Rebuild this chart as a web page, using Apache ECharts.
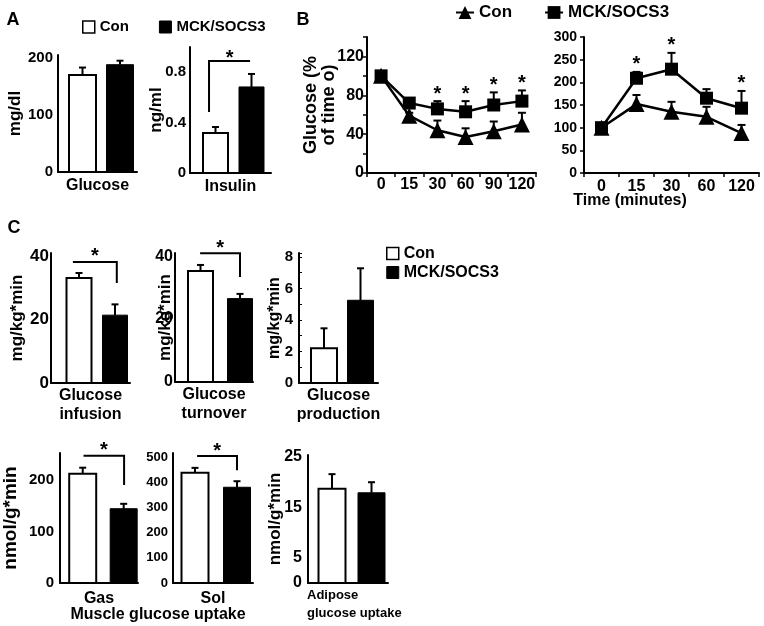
<!DOCTYPE html>
<html><head><meta charset="utf-8">
<script src="https://cdn.jsdelivr.net/npm/echarts@6/dist/echarts.min.js"></script>
<style>html,body{margin:0;padding:0;background:#fff}#c{width:764px;height:626px}</style>
</head><body><div id="c"></div>
<script>
// ================= DATA =================
const groupNames = ['Con', 'MCK/SOCS3'];

// Panel A (fasting)
const fastGlucose = [170, 188];
const fastGlucoseErr = [13, 7];
const glucoseTicks = [0, 100, 200];
const fastInsulin = [0.317, 0.683];
const fastInsulinErr = [0.048, 0.103];
const insulinTicks = [0, 0.4, 0.8];

// Panel B left (glucose, % of time 0)
const gttTimes = ['0', '15', '30', '60', '90', '120'];
const gttCon = [100, 59, 44, 37, 43, 50];
const gttConErr = [0, 3, 10, 9, 10, 12];
const gttMck = [100, 72, 66, 63, 70, 74];
const gttMckErr = [0, 4, 8, 11, 13, 11];
const gttSig = [2, 3, 4, 5];
const gttTicks = [0, 40, 80, 120];

// Panel B right
const ittTimes = ['0', '15', '30', '60', '120'];
const ittCon = [100, 152, 135, 124, 88];
const ittConErr = [0, 20, 22, 22, 18];
const ittMck = [100, 209, 229, 165, 143];
const ittMckErr = [0, 14, 36, 20, 38];
const ittSig = [1, 2, 4];
const ittTicks = [0, 50, 100, 150, 200, 250, 300];

// Panel C (clamp)
const glucoseInfusion = [33.1, 21.4];
const glucoseInfusionErr = [1.6, 3.4];
const infusionTicks = [0, 20, 40];
const glucoseTurnover = [35.3, 26.5];
const glucoseTurnoverErr = [1.9, 1.5];
const turnoverTicks = [0, 20, 40];
const glucoseProduction = [2.2, 5.25];
const glucoseProductionErr = [1.27, 2.03];
const productionTicks = [0, 2, 4, 6, 8];
const gasUptake = [212, 144];
const gasUptakeErr = [11.5, 9.5];
const gasTicks = [0, 100, 200];
const solUptake = [438, 380];
const solUptakeErr = [19, 24];
const solTicks = [0, 100, 200, 300, 400, 500];
const adiposeUptake = [18.7, 17.9];
const adiposeUptakeErr = [2.9, 2.1];
const adiposeTicks = [0, 5, 15, 25];

// ================= LAYOUT / STYLE =================
const FONT = 'Liberation Sans';
const BLACK = '#000';

const barPanels = [
  {vals: fastGlucose, errs: fastGlucoseErr, ticks: glucoseTicks, L: 58, R: 137, top: 55, y0: 172, c1: 82.5, c2: 120, bw: 27,
   max: 205, interval: 100, lblSize: 15, lblMargin: 5, yName: 'mg/dl', yGap: 34, yNameSize: 17, xName: 'Glucose', xGap: 4, xNameSize: 16},
  {vals: fastInsulin, errs: fastInsulinErr, ticks: insulinTicks, L: 190, R: 271, top: 47, y0: 173, c1: 215.5, c2: 251.5, bw: 25,
   max: 1.0, interval: 0.4, lblSize: 15, lblMargin: 4, yName: 'ng/ml', yGap: 25, yNameSize: 17, xName: 'Insulin', xGap: 4, xNameSize: 16,
   bracket: {x1: 0.82, x2: 1.96, y: 0.889, drop: 0.484, side: 'left', starOff: 3}},
  {vals: glucoseInfusion, errs: glucoseInfusionErr, ticks: infusionTicks, L: 51, R: 130, top: 253, y0: 383, c1: 79, c2: 115, bw: 25,
   max: 41, interval: 20, lblSize: 17, lblMargin: 2, yName: 'mg/kg*min', yGap: 25, yNameSize: 17, xName: 'Glucose\ninfusion', xGap: 3, xNameSize: 16,
   bracket: {x1: 0.83, x2: 2.05, y: 38.2, drop: 31.5, side: 'right', starOff: 5}},
  {vals: glucoseTurnover, errs: glucoseTurnoverErr, ticks: turnoverTicks, L: 175, R: 253, top: 253, y0: 382, c1: 200.5, c2: 240, bw: 25,
   max: 41, interval: 20, lblSize: 16, lblMargin: 2, yName: 'mg/kg*min', yGap: 1, yNameSize: 17, xName: 'Glucose\nturnover', xGap: 3, xNameSize: 16,
   bracket: {x1: 0.99, x2: 2.0, y: 40.9, drop: 33.4, side: 'right', starOff: 5}},
  {vals: glucoseProduction, errs: glucoseProductionErr, ticks: productionTicks, L: 299, R: 378, top: 253, y0: 383, c1: 324, c2: 360.5, bw: 26,
   max: 8.25, interval: 1, lblSize: 15, lblMargin: 6, yName: 'mg/kg*min', yGap: 16, yNameSize: 16, xName: 'Glucose\nproduction', xGap: 3, xNameSize: 16, tick: true},
  {vals: gasUptake, errs: gasUptakeErr, ticks: gasTicks, L: 59, R: 138, top: 453, y0: 583, c1: 82, c2: 123.5, bw: 27,
   max: 252, interval: 100, lblSize: 15, lblMargin: 6, yName: 'nmol/g*min', yGap: 40, yNameSize: 19, xName: 'Gas', xGap: 6, xNameSize: 16,
   bracket: {x1: 1.02, x2: 2.01, y: 246.6, drop: 190, side: 'right', starOff: 5}},
  {vals: solUptake, errs: solUptakeErr, ticks: solTicks, L: 173, R: 253, top: 453, y0: 583, c1: 195, c2: 237, bw: 27,
   max: 516, interval: 100, lblSize: 13, lblMargin: 5, yName: '', yGap: 0, yNameSize: 16, xName: 'Sol', xGap: 6, xNameSize: 16,
   bracket: {x1: 1.05, x2: 2.0, y: 504, drop: 448, side: 'right', starOff: 5}},
  {vals: adiposeUptake, errs: adiposeUptakeErr, ticks: adiposeTicks, L: 308, R: 388, top: 455, y0: 583, c1: 332, c2: 371.5, bw: 27,
   max: 25.4, interval: 5, lblSize: 16, lblMargin: 6, yName: 'nmol/g*min', yGap: 24, yNameSize: 17, xName: '', xGap: 4, xNameSize: 16}
];

const grids = [], xAxes = [], yAxes = [], series = [];

function tickFormatter(list) {
  return v => list.some(t => Math.abs(t - v) < 1e-6) ? String(+v.toFixed(3)) : '';
}
function axisLineStyle() { return {show: true, onZero: false, lineStyle: {color: BLACK, width: 2}}; }

// ---------- line panels (first so legend B uses line icons) ----------
const linePanels = [
  {cats: gttTimes, con: gttCon, conErr: gttConErr, mck: gttMck, mckErr: gttMckErr, sig: gttSig, ticks: gttTicks,
   L: 367, R: 536, top: 37, y0: 173, max: 140, interval: 20, ylbl: 16, ylblMargin: 3, xlbl: 16, xlblMargin: 4,
   yName: 'Glucose (%\nof time o)', yGap: 29},
  {cats: ittTimes, con: ittCon, conErr: ittConErr, mck: ittMck, mckErr: ittMckErr, sig: ittSig, ticks: ittTicks,
   L: 584, R: 759, top: 37, y0: 173, max: 300, interval: 50, ylbl: 14, ylblMargin: 7, xlbl: 16, xlblMargin: 6,
   yName: '', yGap: 0}
];

function errRender(capW) {
  return function (params, api) {
    const x = api.value(0), m = api.value(1), e = api.value(2);
    if (!(e > 0)) return null;
    const p0 = api.coord([x, m]), p1 = api.coord([x, m + e]);
    const st = {stroke: BLACK, lineWidth: 2};
    return {type: 'group', children: [
      {type: 'line', shape: {x1: p0[0], y1: p0[1], x2: p1[0], y2: p1[1]}, style: st},
      {type: 'line', shape: {x1: p1[0] - capW / 2, y1: p1[1], x2: p1[0] + capW / 2, y2: p1[1]}, style: st}
    ]};
  };
}

linePanels.forEach((p, k) => {
  const gi = grids.length;
  grids.push({left: p.L, top: p.top, width: p.R - p.L, height: p.y0 - p.top});
  xAxes.push({gridIndex: gi, type: 'category', data: p.cats, boundaryGap: true,
    axisLine: axisLineStyle(), axisTick: {show: true, length: 4, lineStyle: {color: BLACK, width: 1.5}},
    axisLabel: {color: BLACK, fontFamily: FONT, fontWeight: 'bold', fontSize: p.xlbl, margin: p.xlblMargin, interval: 0, hideOverlap: false},
    splitLine: {show: false}});
  yAxes.push({gridIndex: gi, type: 'value', min: 0, max: p.max, interval: p.interval,
    axisLine: axisLineStyle(), axisTick: {show: true, length: 4, lineStyle: {color: BLACK, width: 1.5}},
    axisLabel: {color: BLACK, fontFamily: FONT, fontWeight: 'bold', fontSize: p.ylbl, margin: p.ylblMargin, formatter: tickFormatter(p.ticks)},
    splitLine: {show: false},
    name: p.yName, nameLocation: 'middle', nameGap: p.yGap, nameMoveOverlap: false,
    nameTextStyle: {color: BLACK, fontFamily: FONT, fontWeight: 'bold', fontSize: 18, lineHeight: 18}});
  [['con', 0], ['mck', 1]].forEach(([key]) => {
    series.push({type: 'custom', xAxisIndex: gi, yAxisIndex: gi, z: 2, silent: true,
      renderItem: errRender(8),
      data: p[key].map((v, i) => [i, v, p[key + 'Err'][i]])});
  });
  [['con', 'triangle', 16, 0], ['mck', 'rect', 13, 1]].forEach(([key, sym, size, gIdx]) => {
    series.unshift({type: 'line', name: groupNames[gIdx], xAxisIndex: gi, yAxisIndex: gi, z: 3,
      data: p[key], symbol: sym, symbolSize: size, showAllSymbol: true,
      lineStyle: {color: BLACK, width: 2.5}, itemStyle: {color: BLACK}, silent: true});
  });
  // significance stars above MCK/SOCS3 error bars
  series.push({type: 'custom', xAxisIndex: gi, yAxisIndex: gi, silent: true,
    renderItem: (params, api) => {
      const c = api.coord([api.value(0), api.value(1)]);
      return {type: 'text', x: c[0], y: c[1] - 7,
        style: {text: '*', fill: BLACK, font: 'bold 20px ' + FONT, textAlign: 'center', textVerticalAlign: 'middle'}};
    },
    data: p.sig.map(i => [i, p.mck[i] + p.mckErr[i]])});
});

// ---------- bar panels ----------
barPanels.forEach(p => {
  const gi = grids.length;
  const unit = p.c2 - p.c1;
  const xmin = 1 - (p.c1 - p.L) / unit, xmax = 2 + (p.R - p.c2) / unit;
  grids.push({left: p.L, top: p.top, width: p.R - p.L, height: p.y0 - p.top});
  xAxes.push({gridIndex: gi, type: 'value', min: xmin, max: xmax,
    axisLine: axisLineStyle(), axisTick: {show: false}, axisLabel: {show: false}, splitLine: {show: false},
    name: p.xName, nameLocation: 'middle', nameGap: p.xGap, nameMoveOverlap: false,
    nameTextStyle: {color: BLACK, fontFamily: FONT, fontWeight: 'bold', fontSize: p.xNameSize, lineHeight: 19, verticalAlign: 'top'}});
  yAxes.push({gridIndex: gi, type: 'value', min: 0, max: p.max, interval: p.interval,
    axisLine: axisLineStyle(),
    axisTick: {show: !!p.tick, inside: true, length: 3, lineStyle: {color: BLACK, width: 1}},
    axisLabel: {color: BLACK, fontFamily: FONT, fontWeight: 'bold', fontSize: p.lblSize, margin: p.lblMargin, formatter: tickFormatter(p.ticks)},
    splitLine: {show: false},
    name: p.yName, nameLocation: 'middle', nameGap: p.yGap, nameMoveOverlap: false,
    nameTextStyle: {color: BLACK, fontFamily: FONT, fontWeight: 'bold', fontSize: p.yNameSize}});
  const bw = p.bw;
  [0, 1].forEach(g => {
    series.push({type: 'custom', name: groupNames[g], xAxisIndex: gi, yAxisIndex: gi, silent: true,
      renderItem: (params, api) => {
        const x = api.value(0), m = api.value(1), e = api.value(2);
        const b = api.coord([x, 0]), t = api.coord([x, m]), et = api.coord([x, m + e]);
        const st = {stroke: BLACK, lineWidth: 2};
        return {type: 'group', children: [
          {type: 'line', shape: {x1: t[0], y1: t[1], x2: et[0], y2: et[1]}, style: st},
          {type: 'line', shape: {x1: et[0] - 3.5, y1: et[1], x2: et[0] + 3.5, y2: et[1]}, style: st},
          {type: 'rect', shape: {x: b[0] - bw / 2, y: t[1], width: bw, height: b[1] - t[1]},
            style: g === 0 ? {fill: '#fff', stroke: BLACK, lineWidth: 2} : {fill: BLACK, stroke: BLACK, lineWidth: 1}}
        ]};
      },
      data: [[g + 1, p.vals[g], p.errs[g]]]});
  });
  if (p.bracket) {
    const br = p.bracket;
    series.push({type: 'custom', xAxisIndex: gi, yAxisIndex: gi, silent: true,
      renderItem: (params, api) => {
        const a = api.coord([br.x1, br.y]), b = api.coord([br.x2, br.y]);
        const pts = [];
        if (br.side === 'left') { pts.push(api.coord([br.x1, br.drop]), a, b); }
        else { pts.push(a, b, api.coord([br.x2, br.drop])); }
        return {type: 'group', children: [
          {type: 'polyline', shape: {points: pts}, style: {stroke: BLACK, lineWidth: 2, fill: null}},
          {type: 'text', x: (a[0] + b[0]) / 2, y: a[1] - br.starOff,
            style: {text: '*', fill: BLACK, font: 'bold 20px ' + FONT, textAlign: 'center', textVerticalAlign: 'middle'}}
        ]};
      },
      data: [[0]]});
  }
});

function txt(text, x, y, size, align) {
  return {type: 'text', x: x, y: y, silent: true,
    style: {text: text, fill: BLACK, font: 'bold ' + size + 'px ' + FONT, textAlign: align || 'center', textVerticalAlign: 'middle'}};
}

const legendText = {color: BLACK, fontFamily: FONT, fontWeight: 'bold'};
const option = {
  animation: false,
  backgroundColor: '#fff',
  textStyle: {fontFamily: FONT},
  grid: grids,
  xAxis: xAxes,
  yAxis: yAxes,
  legend: [
    {left: 82, top: 19, padding: 0, itemWidth: 12, itemHeight: 12, itemGap: 30, selectedMode: false,
      textStyle: Object.assign({fontSize: 15, lineHeight: 16}, legendText),
      data: [{name: groupNames[0], icon: 'rect', itemStyle: {color: '#fff', borderColor: BLACK, borderWidth: 1.5}},
             {name: groupNames[1], icon: 'rect', itemStyle: {color: BLACK, borderColor: BLACK, borderWidth: 1}}]},
    {left: 455, top: 4, padding: 0, itemWidth: 18, itemHeight: 16, itemGap: 32, selectedMode: false,
      textStyle: Object.assign({fontSize: 17, lineHeight: 17}, legendText),
      data: [groupNames[0], groupNames[1]]},
    {left: 386, top: 245, padding: 0, orient: 'vertical', itemWidth: 12, itemHeight: 12, itemGap: 2, selectedMode: false,
      textStyle: Object.assign({fontSize: 16, lineHeight: 17}, legendText),
      data: [{name: groupNames[0], icon: 'rect', itemStyle: {color: '#fff', borderColor: BLACK, borderWidth: 1.5}},
             {name: groupNames[1], icon: 'rect', itemStyle: {color: BLACK, borderColor: BLACK, borderWidth: 1}}]}
  ],
  graphic: [
    txt('A', 13, 20, 18),
    txt('B', 303, 20, 18),
    txt('C', 14, 228, 18),
    txt('Time (minutes)', 630, 201, 16),
    txt('Muscle glucose uptake', 158, 615, 16),
    {type: 'text', x: 307, y: 586, silent: true,
      style: {text: 'Adipose\nglucose uptake', fill: BLACK, font: 'bold 13px ' + FONT, lineHeight: 18, textAlign: 'left', textVerticalAlign: 'top'}}
  ],
  series: series
};

const chart = echarts.init(document.getElementById('c'), null, {renderer: 'canvas', width: 764, height: 626});
chart.setOption(option);
</script>
</body></html>
